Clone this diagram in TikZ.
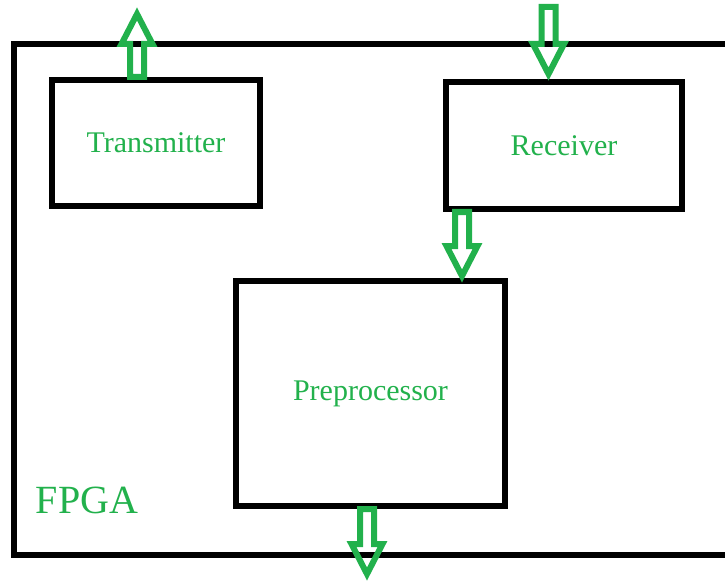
\documentclass[tikz,border=0pt]{standalone}
\usepackage{fontspec}
\setmainfont{Liberation Serif}
\usetikzlibrary{calc}
\definecolor{paintgreen}{HTML}{22B14C}

\begin{document}
\begin{tikzpicture}[x=1pt, y=1pt,
  frame/.style={draw, line width=6pt},
  unit/.style={draw, line width=6pt, inner sep=0pt, text=paintgreen, font=\fontsize{30}{36}\selectfont},
  blk/.style={draw=paintgreen, line width=6pt, to path={
    ($(\tikztostart)!7pt!90:(\tikztotarget)$)
    -- ($(\tikztotarget)!30pt!(\tikztostart)!7pt!90:(\tikztotarget)$)
    -- ($(\tikztotarget)!30pt!(\tikztostart)!15.5pt!90:(\tikztotarget)$)
    -- (\tikztotarget)
    -- ($(\tikztotarget)!30pt!(\tikztostart)!15.5pt!-90:(\tikztotarget)$)
    -- ($(\tikztotarget)!30pt!(\tikztostart)!7pt!-90:(\tikztotarget)$)
    -- ($(\tikztostart)!7pt!-90:(\tikztotarget)$) -- cycle}}]
  \useasboundingbox (0,0) rectangle (725,582);
  % board outline, runs off the right edge
  \draw[frame] (725,538) -| (14,27) -- (725,27);
  \node[text=paintgreen, font=\fontsize{40}{48}\selectfont] (fpga) at (87,82) {FPGA};
  \node[unit, minimum width=208, minimum height=126] (tx) at (156,439) {Transmitter};
  \node[unit, minimum width=236, minimum height=127] (rx) at (564,436.5) {Receiver};
  \node[unit, minimum width=269, minimum height=225] (pp) at (370.5,188.5) {Preprocessor};
  % free ends of the block arrows
  \coordinate (txout) at (137,568);
  \coordinate (rxin) at (548.5,575);
  \coordinate (rxout) at ([xshift=19]rx.south west);
  \coordinate (ppout) at (367,8);
  \draw[blk] (tx.north -| txout) to (txout);
  \draw[blk] (rxin) to ([yshift=5]rx.north -| rxin);
  \draw[blk] (rxout) to ([yshift=2]pp.north -| rxout);
  \draw[blk] (pp.south -| ppout) to (ppout);
\end{tikzpicture}
\end{document}
